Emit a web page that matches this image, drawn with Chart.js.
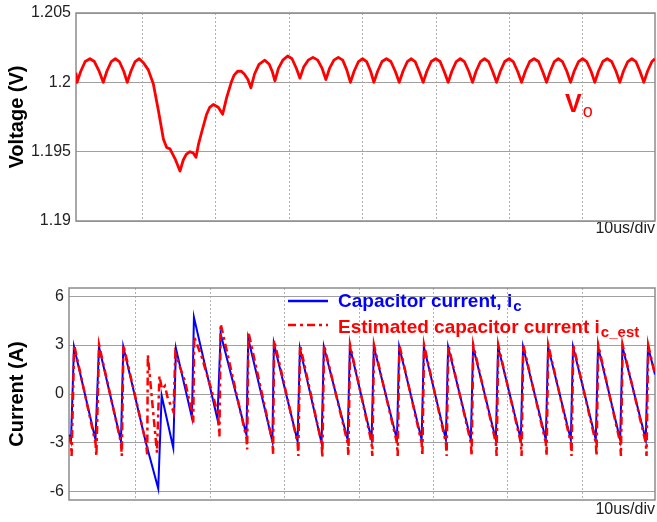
<!DOCTYPE html>
<html>
<head>
<meta charset="utf-8">
<script src="https://cdn.jsdelivr.net/npm/chart.js@4.4.1/dist/chart.umd.min.js"></script>
<style>
  html, body { margin: 0; padding: 0; background: #fff; }
  .panel { position: absolute; left: 0; width: 657px; }
  #voltage-panel { top: 0; height: 245px; }
  #current-panel { top: 250px; height: 272px; }
</style>
</head>
<body>
<div class="panel" id="voltage-panel"><canvas id="voltageChart"></canvas></div>
<div class="panel" id="current-panel"><canvas id="currentChart"></canvas></div>
<script>
// time axis in microseconds, one division = 10 us
const timeSpan = [0, 78.8];
const divTimes = [9, 19, 29, 39, 49, 59, 69];

const voltageTicks = [1.19, 1.195, 1.2, 1.205];
const currentTicks = [-6, -3, 0, 3, 6];

// output voltage Vo (V)
const voltageTime = [
  0, 0.14,
  0.65, 1.25, 1.9, 2.5, 3.15, 3.71,
  4.2, 4.8, 5.35, 5.9, 6.5, 6.98,
  7.47, 8.05, 8.6, 9.2, 9.84, 10.52, 11.2, 11.9, 12.34, 12.79, 13.47, 14.15,
  14.6, 15.0, 15.51, 15.95, 16.33, 16.7, 17.1, 17.78, 18.2, 18.68, 19.36, 19.96,
  20.5, 21.13, 21.5, 22.0, 22.5, 22.9, 23.4, 23.8,
  24.3, 24.9, 25.7, 26.3, 26.7, 27.07,
  27.55, 28.15, 28.8, 29.4, 30.0, 30.48,
  30.98, 31.6, 32.25, 32.9, 33.5, 34.01,
  34.5, 35.1, 35.7, 36.3, 36.85, 37.35,
  37.85, 38.45, 39.0, 39.55, 40.1, 40.54,
  41.05, 41.65, 42.25, 42.85, 43.45, 43.99,
  44.5, 45.1, 45.6, 46.15, 46.7, 47.25,
  47.75, 48.35, 48.95, 49.55, 50.1, 50.65,
  51.15, 51.75, 52.3, 52.85, 53.45, 53.97,
  54.45, 55.05, 55.6, 56.15, 56.7, 57.24,
  57.75, 58.35, 58.95, 59.5, 60.1, 60.64,
  61.15, 61.75, 62.35, 62.95, 63.5, 64.04,
  64.55, 65.1, 65.65, 66.2, 66.8, 67.31,
  67.8, 68.4, 68.95, 69.5, 70.1, 70.61,
  71.1, 71.7, 72.3, 72.9, 73.5, 74.01,
  74.5, 75.1, 75.65, 76.2, 76.75, 77.28,
  77.78, 78.38, 78.8
];
const voltage = [
  1.2007, 1.2000,
  1.2008, 1.2015, 1.2017, 1.2015, 1.2008, 1.2000,
  1.2008, 1.2015, 1.2017, 1.2015, 1.2008, 1.2000,
  1.2008, 1.2015, 1.2017, 1.2014, 1.2009, 1.1999, 1.1980, 1.1959, 1.1953, 1.1952, 1.1945, 1.1936,
  1.1944, 1.1948, 1.1950, 1.1949, 1.1946, 1.1956, 1.1964, 1.1977, 1.1982, 1.1984, 1.1982, 1.1977,
  1.1989, 1.2000, 1.2005, 1.2008, 1.2008, 1.2006, 1.2002, 1.1996,
  1.2006, 1.2013, 1.2016, 1.2013, 1.2008, 1.2001,
  1.2010, 1.2016, 1.2019, 1.2017, 1.2010, 1.2003,
  1.2011, 1.2016, 1.2018, 1.2016, 1.2010, 1.2002,
  1.2010, 1.2016, 1.2018, 1.2016, 1.2009, 1.2000,
  1.2008, 1.2015, 1.2017, 1.2015, 1.2008, 1.2000,
  1.2008, 1.2015, 1.2017, 1.2015, 1.2008, 1.2000,
  1.2008, 1.2015, 1.2017, 1.2015, 1.2008, 1.2000,
  1.2008, 1.2015, 1.2017, 1.2015, 1.2008, 1.2000,
  1.2008, 1.2015, 1.2017, 1.2015, 1.2008, 1.2000,
  1.2008, 1.2015, 1.2017, 1.2015, 1.2008, 1.2000,
  1.2008, 1.2015, 1.2017, 1.2015, 1.2008, 1.2000,
  1.2008, 1.2015, 1.2017, 1.2015, 1.2008, 1.2000,
  1.2008, 1.2015, 1.2017, 1.2015, 1.2008, 1.2000,
  1.2008, 1.2015, 1.2017, 1.2015, 1.2008, 1.2000,
  1.2008, 1.2015, 1.2017, 1.2015, 1.2008, 1.2000,
  1.2008, 1.2015, 1.2017, 1.2015, 1.2008, 1.2000,
  1.2008, 1.2015, 1.2017
];

// capacitor current ic (A)
const icTime = [
  0, 0.27, 0.67, 3.56, 4.03, 6.99, 7.30, 10.35, 12.0, 12.46, 14.02, 14.38,
  16.53, 16.80, 19.96, 20.39, 23.86, 24.10, 27.35, 27.55, 30.74, 31.05, 33.96, 34.27,
  37.47, 37.77, 40.69, 40.99, 44.1, 44.4, 47.42, 47.72, 50.68, 50.98, 54.04, 54.34,
  57.40, 57.70, 60.76, 61.06, 64.12, 64.42, 67.48, 67.78, 70.84, 71.14, 74.12, 74.42,
  77.56, 77.86, 78.8
];
const icValue = [
  -2.5, -2.9, 2.9, -2.8, 2.9, -2.9, 2.9, -3.0, -5.8, -0.1, -3.3, 2.8,
  -1.45, 4.7, -1.55, 3.7, -2.5, 3.4, -2.9, 3.1, -2.9, 2.8, -3.0, 2.9,
  -2.8, 2.9, -2.8, 2.9, -2.8, 2.9, -2.8, 2.9, -2.8, 2.9, -2.8, 2.9,
  -2.8, 2.9, -2.8, 2.9, -2.8, 2.9, -2.8, 2.9, -2.8, 2.9, -2.8, 2.9,
  -2.8, 2.9, 1.2
];

// estimated capacitor current ic_est (A)
const estTime = [
  0, 0.27, 0.35, 0.7,
  3.56, 3.68, 4.05,
  6.99, 7.1, 7.32,
  10.35, 10.52, 10.6, 11.83, 12.16, 12.5, 12.9, 13.3, 13.9, 14.05, 14.3,
  14.92, 15.59, 16.03, 16.49, 16.71, 16.84, 17.83, 19.0, 20.07, 20.23, 20.4,
  23.86, 23.96, 24.13,
  27.35, 27.45, 27.58,
  30.74, 30.84, 31.07,
  33.96, 34.07, 34.3,
  37.47, 37.57, 37.8,
  40.69, 40.79, 41.02,
  44.1, 44.2, 44.43,
  47.42, 47.52, 47.75,
  50.68, 50.78, 51.01,
  54.04, 54.14, 54.37,
  57.40, 57.50, 57.73,
  60.76, 60.86, 61.09,
  64.12, 64.22, 64.45,
  67.48, 67.58, 67.81,
  70.84, 70.94, 71.17,
  74.12, 74.22, 74.45,
  77.56, 77.66, 77.89,
  78.8
];
const estValue = [
  -2.6, -3.0, -3.8, 3.0,
  -3.0, -3.8, 3.0,
  -3.0, -3.8, 3.0,
  -3.0, -3.7, 2.4, -3.6, 1.1, 0.3, 0.5, -0.3, -0.9, -1.1, 2.5,
  1.65, 0.8, -0.1, -1.0, -1.75, 3.5, 2.3, 0.5, -1.3, -2.6, 4.3,
  -2.7, -3.4, 3.8,
  -2.9, -3.7, 3.3,
  -3.0, -3.8, 3.0,
  -3.0, -3.9, 3.0,
  -3.0, -3.8, 3.0,
  -3.0, -3.8, 3.0,
  -3.0, -3.8, 3.0,
  -3.0, -3.8, 3.0,
  -3.0, -3.8, 3.0,
  -3.0, -3.8, 3.0,
  -3.0, -3.8, 3.0,
  -3.0, -3.8, 3.0,
  -3.0, -3.8, 3.0,
  -3.0, -3.8, 3.0,
  -3.0, -3.8, 3.0,
  -3.0, -3.8, 3.0,
  -3.0, -3.8, 3.0,
  1.2
];

const RED = '#ff0000';
const BLUE = '#0000ff';
const FONT = '"Liberation Sans", Arial, sans-serif';

Chart.defaults.font.family = FONT;
Chart.defaults.color = '#222';

const toPoints = (xs, ys) => xs.map((x, i) => ({ x, y: ys[i] }));

// grey box round the plot area
const plotFrame = {
  id: 'plotFrame',
  beforeDatasetsDraw(chart) {
    const { ctx, chartArea: a } = chart;
    ctx.save();
    ctx.strokeStyle = '#8c8c8c';
    ctx.lineWidth = 1.5;
    ctx.strokeRect(a.left, a.top, a.right - a.left, a.bottom - a.top);
    ctx.restore();
  }
};

function drawSubText(ctx, x, y, main, sub, color, mainFont, subFont, drop) {
  ctx.fillStyle = color;
  ctx.font = mainFont;
  ctx.textAlign = 'left';
  ctx.textBaseline = 'alphabetic';
  ctx.fillText(main, x, y);
  const w = ctx.measureText(main).width;
  ctx.font = subFont;
  ctx.fillText(sub, x + w + 1, y + drop);
}

function timeAxis() {
  return {
    type: 'linear',
    min: timeSpan[0],
    max: timeSpan[1],
    afterBuildTicks: (scale) => {
      scale.ticks = divTimes.map((v) => ({ value: v }));
    },
    afterFit: (scale) => { scale.height = 24; },
    ticks: { display: false },
    grid: { color: '#b0b0b0', lineWidth: 1, drawTicks: false },
    border: { display: false, dash: [2, 2] },
    title: {
      display: true,
      text: '10us/div',
      align: 'end',
      color: '#222',
      font: { size: 16 },
      padding: { top: 0, bottom: 7 }
    }
  };
}

function valueAxis(ticks, min, max, label, width) {
  return {
    type: 'linear',
    min,
    max,
    afterBuildTicks: (scale) => {
      scale.ticks = ticks.map((v) => ({ value: v }));
    },
    afterFit: (scale) => { scale.width = width; },
    ticks: {
      padding: 5,
      color: '#222',
      font: { size: 16, lineHeight: 1 },
      callback: (v) => String(v)
    },
    grid: { color: '#a0a0a0', lineWidth: 1, drawTicks: false },
    border: { display: false },
    title: {
      display: true,
      text: label,
      color: '#000',
      font: { size: 20, weight: 'bold' },
      padding: { top: 5, bottom: 0 }
    }
  };
}

const voLabel = {
  id: 'voLabel',
  afterDraw(chart) {
    const { ctx } = chart;
    ctx.save();
    drawSubText(ctx, 565, 111.5, 'V', 'o', RED, `bold 25px ${FONT}`, `18px ${FONT}`, 5);
    ctx.restore();
  }
};

const currentLegend = {
  id: 'currentLegend',
  afterDraw(chart) {
    const { ctx } = chart;
    ctx.save();
    ctx.lineWidth = 2.5;
    ctx.strokeStyle = BLUE;
    ctx.beginPath();
    ctx.moveTo(288, 51);
    ctx.lineTo(328, 51);
    ctx.stroke();
    ctx.strokeStyle = RED;
    ctx.setLineDash([8, 4, 3, 4]);
    ctx.beginPath();
    ctx.moveTo(288, 75);
    ctx.lineTo(328, 75);
    ctx.stroke();
    ctx.setLineDash([]);
    drawSubText(ctx, 338, 57, 'Capacitor current, i', 'c', BLUE, `bold 19px ${FONT}`, `bold 15px ${FONT}`, 4);
    drawSubText(ctx, 338, 83, 'Estimated capacitor current i', 'c_est', RED, `bold 19px ${FONT}`, `bold 15px ${FONT}`, 4);
    ctx.restore();
  }
};

new Chart(document.getElementById('voltageChart'), {
  type: 'line',
  data: {
    datasets: [{
      label: 'Vo',
      data: toPoints(voltageTime, voltage),
      borderColor: RED,
      borderWidth: 2.8,
      borderJoinStyle: 'round',
      pointRadius: 0,
      tension: 0
    }]
  },
  options: {
    responsive: true,
    maintainAspectRatio: false,
    animation: false,
    layout: { padding: { top: 9, right: 2, left: 0, bottom: 0 } },
    plugins: { legend: { display: false }, tooltip: { enabled: false } },
    scales: {
      x: timeAxis(),
      y: valueAxis(voltageTicks, 1.19, 1.205, 'Voltage (V)', 76)
    }
  },
  plugins: [plotFrame, voLabel]
});

new Chart(document.getElementById('currentChart'), {
  type: 'line',
  data: {
    datasets: [{
      label: 'Estimated capacitor current ic_est',
      data: toPoints(estTime, estValue),
      borderColor: RED,
      borderWidth: 2.5,
      borderDash: [8, 4, 3, 4],
      pointRadius: 0,
      tension: 0,
      order: 0
    }, {
      label: 'Capacitor current, ic',
      data: toPoints(icTime, icValue),
      borderColor: BLUE,
      borderWidth: 2,
      pointRadius: 0,
      tension: 0,
      order: 1
    }]
  },
  options: {
    responsive: true,
    maintainAspectRatio: false,
    animation: false,
    layout: { padding: { top: 38, right: 2, left: 0, bottom: 0 } },
    plugins: { legend: { display: false }, tooltip: { enabled: false } },
    scales: {
      x: (() => {
        const axis = timeAxis();
        axis.afterFit = (scale) => { scale.height = 22; };
        axis.title.padding = { top: 0, bottom: 3 };
        return axis;
      })(),
      y: valueAxis(currentTicks, -6.5, 6.5, 'Current (A)', 69)
    }
  },
  plugins: [plotFrame, currentLegend]
});
</script>
</body>
</html>
